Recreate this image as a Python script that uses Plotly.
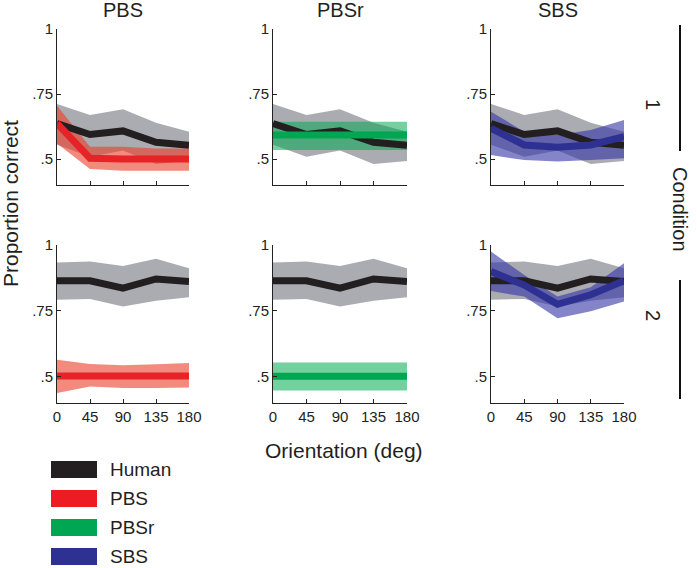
import plotly.graph_objects as go
from plotly.subplots import make_subplots

W, H = 697, 568

orientation = [0, 45, 90, 135, 180]
models = ["PBS", "PBSr", "SBS"]

# Condition 1 -- human
human_c1 = [0.636, 0.594, 0.608, 0.564, 0.553]
human_c1_hi = [0.712, 0.669, 0.691, 0.639, 0.605]
human_c1_lo = [0.555, 0.509, 0.533, 0.481, 0.492]
# Condition 2 -- human
human_c2 = [0.864, 0.864, 0.836, 0.871, 0.861]
human_c2_hi = [0.934, 0.937, 0.920, 0.948, 0.912]
human_c2_lo = [0.792, 0.795, 0.766, 0.788, 0.802]

# PBS model
pbs_c1 = [0.637, 0.503, 0.500, 0.500, 0.500]
pbs_c1_hi = [0.705, 0.547, 0.547, 0.540, 0.540]
pbs_c1_lo = [0.560, 0.462, 0.455, 0.455, 0.455]
pbs_c2 = [0.503, 0.503, 0.502, 0.503, 0.503]
pbs_c2_hi = [0.564, 0.548, 0.543, 0.547, 0.552]
pbs_c2_lo = [0.438, 0.463, 0.457, 0.457, 0.459]

# PBSr model
pbsr_c1 = [0.592, 0.592, 0.592, 0.592, 0.592]
pbsr_c1_hi = [0.643, 0.643, 0.643, 0.643, 0.643]
pbsr_c1_lo = [0.535, 0.535, 0.535, 0.535, 0.535]
pbsr_c2 = [0.502, 0.502, 0.502, 0.502, 0.502]
pbsr_c2_hi = [0.554, 0.554, 0.554, 0.554, 0.554]
pbsr_c2_lo = [0.447, 0.447, 0.447, 0.447, 0.447]

# SBS model
sbs_c1 = [0.618, 0.554, 0.545, 0.554, 0.586]
sbs_c1_hi = [0.682, 0.605, 0.592, 0.612, 0.650]
sbs_c1_lo = [0.515, 0.496, 0.490, 0.496, 0.503]
sbs_c2 = [0.899, 0.848, 0.775, 0.811, 0.864]
sbs_c2_hi = [0.975, 0.886, 0.804, 0.840, 0.931]
sbs_c2_lo = [0.825, 0.804, 0.722, 0.748, 0.785]

x_ticks = [0, 45, 90, 135, 180]
x_ticktext = ["0", "45", "90", "135", "180"]
y_ticks = [0.5, 0.75, 1]
y_ticktext = [".5", ".75", "1"]

legend_names = ["Human", "PBS", "PBSr", "SBS"]

human_line = "rgb(35,31,32)"
human_band = "rgb(170,172,177)"
model_line = {"PBS": "rgb(232,35,40)", "PBSr": "rgb(0,166,81)", "SBS": "rgb(46,49,146)"}
model_band = {"PBS": "rgba(235,60,40,0.6)", "PBSr": "rgba(0,170,80,0.55)", "SBS": "rgba(50,50,165,0.6)"}
legend_colors = ["rgb(35,31,32)", "rgb(237,28,36)", "rgb(0,166,81)", "rgb(46,49,146)"]

model_data = {
    ("PBS", 1): (pbs_c1, pbs_c1_hi, pbs_c1_lo),
    ("PBS", 2): (pbs_c2, pbs_c2_hi, pbs_c2_lo),
    ("PBSr", 1): (pbsr_c1, pbsr_c1_hi, pbsr_c1_lo),
    ("PBSr", 2): (pbsr_c2, pbsr_c2_hi, pbsr_c2_lo),
    ("SBS", 1): (sbs_c1, sbs_c1_hi, sbs_c1_lo),
    ("SBS", 2): (sbs_c2, sbs_c2_hi, sbs_c2_lo),
}
human_data = {1: (human_c1, human_c1_hi, human_c1_lo), 2: (human_c2, human_c2_hi, human_c2_lo)}

FONT = "Liberation Sans, Arial, Helvetica, sans-serif"
TXT = "#231f20"

fig = make_subplots(rows=2, cols=3)


def band(x, hi, lo, color, row, col):
    fig.add_trace(go.Scatter(x=list(x) + list(x)[::-1], y=list(hi) + list(lo)[::-1],
                             fill="toself", fillcolor=color, mode="none",
                             hoverinfo="skip", showlegend=False), row=row, col=col)


def line(x, y, color, row, col, width=7):
    fig.add_trace(go.Scatter(x=x, y=y, mode="lines", line=dict(color=color, width=width),
                             showlegend=False), row=row, col=col)


for cond in (1, 2):
    for ci, m in enumerate(models):
        r, c = cond, ci + 1
        hm, hh, hl = human_data[cond]
        mm, mh, ml = model_data[(m, cond)]
        band(orientation, hh, hl, human_band, r, c)
        band(orientation, mh, ml, model_band[m], r, c)
        line(orientation, hm, human_line, r, c)
        line(orientation, mm, model_line[m], r, c)


def px(x):
    return x / W


def py(y):
    return 1 - y / H


x_dom = [(57, 189), (273, 407), (491, 624)]
y_dom = [(29, 185), (245, 403)]

for r in (1, 2):
    for c in (1, 2, 3):
        xd = x_dom[c - 1]
        yd = y_dom[r - 1]
        fig.update_xaxes(domain=[px(xd[0]), px(xd[1])], range=[0, 180], automargin=False,
                         tickvals=x_ticks, ticktext=x_ticktext,
                         showticklabels=(r == 2), ticks="inside", ticklen=4,
                         tickcolor="#222", showline=True, linecolor="#222", linewidth=1,
                         showgrid=False, zeroline=False,
                         tickfont=dict(family=FONT, size=15, color=TXT),
                         row=r, col=c)
        fig.update_yaxes(domain=[py(yd[1]), py(yd[0])], range=[0.4, 1], automargin=False,
                         tickvals=y_ticks, ticktext=y_ticktext,
                         ticks="inside", ticklen=4, tickcolor="#222",
                         showline=True, linecolor="#222", linewidth=1,
                         showgrid=False, zeroline=False,
                         tickfont=dict(family=FONT, size=15, color=TXT),
                         row=r, col=c)

annotations = []
shapes = []


def label(x, y, text, size, angle=0, xanchor="center"):
    annotations.append(dict(x=px(x), y=py(y), xref="paper", yref="paper", text=text,
                            textangle=angle, showarrow=False, xanchor=xanchor, yanchor="middle",
                            font=dict(family=FONT, size=size, color=TXT)))


# column titles
for ci, m in enumerate(models):
    xd = x_dom[ci]
    label((xd[0] + xd[1]) / 2, 10, m, 20)

label(11, 204, "Proportion correct", 21, angle=-90)
label(344, 450, "Orientation (deg)", 21)
label(680, 209, "Condition", 20, angle=90)
label(653, 104, "1", 20, angle=90)
label(653, 315, "2", 20, angle=90)

shapes.append(dict(type="line", xref="paper", yref="paper", x0=px(680), x1=px(680),
                   y0=py(25), y1=py(151), line=dict(color="#111", width=2)))
shapes.append(dict(type="line", xref="paper", yref="paper", x0=px(680), x1=px(680),
                   y0=py(280), y1=py(399), line=dict(color="#111", width=2)))

# legend
leg_top = [461, 490, 519, 548]
for name, col, t in zip(legend_names, legend_colors, leg_top):
    shapes.append(dict(type="rect", xref="paper", yref="paper", x0=px(51), x1=px(97),
                       y0=py(t + 17), y1=py(t), fillcolor=col, line=dict(width=0)))
    label(108, t + 8.5, name, 19, xanchor="left")

fig.update_layout(template="none", width=W, height=H, margin=dict(l=0, r=0, t=0, b=0, autoexpand=False),
                  plot_bgcolor="white", paper_bgcolor="white",
                  showlegend=False, annotations=annotations, shapes=shapes)

fig.write_html("out.html", config={"displayModeBar": False},
               post_script="document.body.style.margin='0';document.body.style.overflow='hidden';")
